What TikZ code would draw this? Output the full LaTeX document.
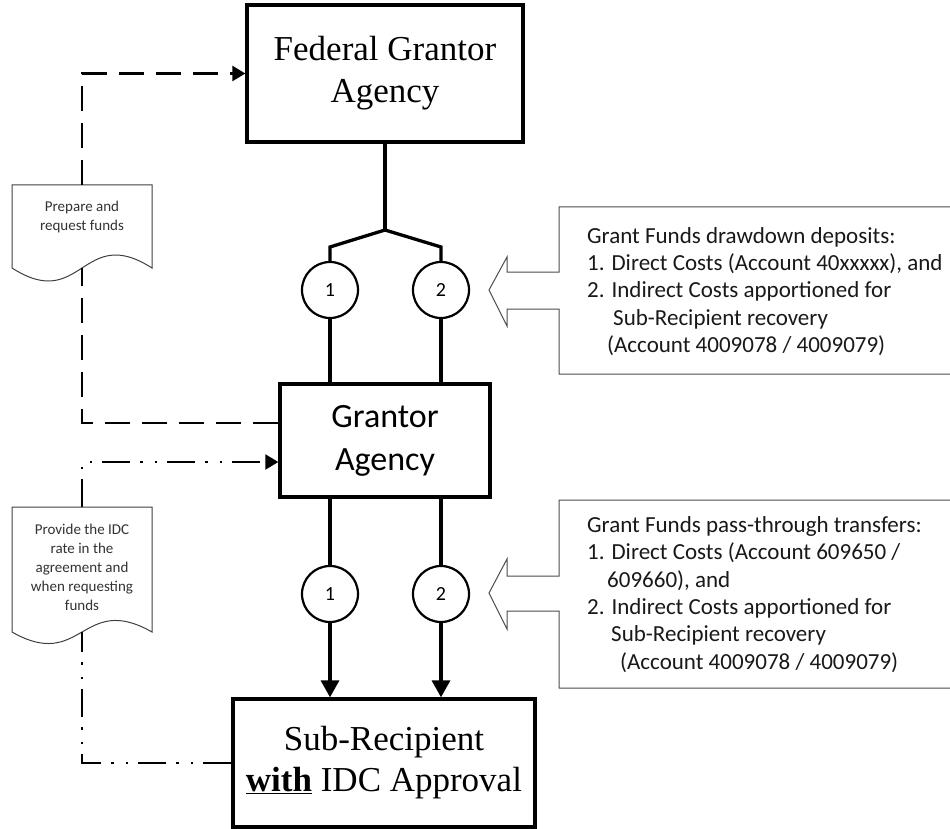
\documentclass[tikz,border=0pt]{standalone}
\usepackage{fontspec}
\setmainfont{Liberation Serif}
\newfontfamily\calfont{Carlito}
\usetikzlibrary{arrows.meta}
\begin{document}
\begin{tikzpicture}[x=1pt,y=-1pt,
  bigbox/.style={draw, line width=3.3pt, rectangle, inner sep=0pt, align=center},
  flow/.style={line width=3.3pt, line join=miter},
  numcirc/.style={draw, circle, line width=2.2pt, minimum size=56pt, inner sep=0pt, fill=white, font=\calfont\fontsize{20}{24}\selectfont},
  docbox/.style={minimum width=140pt, inner sep=0pt, outer sep=0pt},
  doctext/.style={align=center, inner sep=0pt, font=\calfont\fontsize{15}{19}\selectfont, text=black!80},
  docline/.style={draw=black!75, line width=1pt, fill=white},
  dashline/.style={line width=2.5pt, dash pattern=on 25pt off 12pt},
  ddline/.style={line width=2pt, dash pattern=on 28pt off 10pt on 2.5pt off 12pt on 2.5pt off 10pt},
  callout/.style={draw=black!70, line width=1pt, fill=white},
  callouttext/.style={align=left, inner sep=0pt, anchor=west, font=\calfont\fontsize{23}{27.3}\selectfont, text=black!90},
]
\clip (0,0) rectangle (950,829);

% main boxes
\node[bigbox, minimum width=276pt, minimum height=137pt, font=\fontsize{35}{42}\selectfont] (fga) at (385,73.5) {Federal Grantor\\Agency};
\node[bigbox, minimum width=210pt, minimum height=113pt, font=\calfont\fontsize{34}{43}\selectfont] (ga) at (385,440.5) {Grantor\\Agency};
\node[bigbox, minimum width=302pt, minimum height=128pt, font=\fontsize{35}{41}\selectfont] (sr) at (384,763) {Sub-Recipient\\\underline{\textbf{with}} IDC Approval};

% circles
\node[numcirc] (c1u) at (330,290) {1};
\node[numcirc] (c2u) at (441,290) {2};
\node[numcirc] (c1l) at (330,594) {1};
\node[numcirc] (c2l) at (441,594) {2};

% documents
\node[docbox, minimum height=83pt] (doc1) at (82,226.5) {};
\draw[docline] (doc1.north west) -- (doc1.north east) -- (doc1.south east)
  .. controls +(-70,-45) and +(70,45) .. (doc1.south west) -- cycle;
\node[doctext] (doc1t) at ([yshift=9.5pt]doc1.center) {Prepare and\\request funds};

\node[docbox, minimum height=125pt] (doc2) at (82,569.5) {};
\draw[docline] (doc2.north west) -- (doc2.north east) -- (doc2.south east)
  .. controls +(-70,-40) and +(70,40) .. (doc2.south west) -- cycle;
\node[doctext] (doc2t) at ([yshift=2pt]doc2.center) {Provide the IDC\\rate in the\\agreement and\\when requesting\\funds};

% callouts
\draw[callout] (960,207) -- (559,207) -- (559,272) -- (507,272) -- (507,257) -- (489,290)
  -- (507,326) -- (507,309) -- (559,309) -- (559,374) -- (960,374) -- cycle;
\node[callouttext] (t1) at (587,291.5) {Grant Funds drawdown deposits:\\
1. Direct Costs (Account 40xxxxx), and\\
2. Indirect Costs apportioned for\\
\hspace*{26pt}Sub-Recipient recovery\\
\hspace*{20pt}(Account 4009078 / 4009079)};

\draw[callout] (960,500) -- (559,500) -- (559,576) -- (507,576) -- (507,559) -- (489,593)
  -- (507,629) -- (507,611) -- (559,611) -- (559,688) -- (960,688) -- cycle;
\node[callouttext] (t2) at (587,594.5) {Grant Funds pass-through transfers:\\
1. Direct Costs (Account 609650 /\\
\hspace*{20pt}609660), and\\
2. Indirect Costs apportioned for\\
\hspace*{24pt}Sub-Recipient recovery\\
\hspace*{33pt}(Account 4009078 / 4009079)};

% flow connectors
\coordinate (j) at (385,230);
\coordinate (b1) at (330,247);
\coordinate (b2) at (441,247);
\draw[flow] (fga.south) -- (j);
\draw[flow] (j) -- (b1) -- (c1u.north);
\draw[flow] (j) -- (b2) -- (c2u.north);
\draw[flow] (c1u.south) -- (c1u.south |- ga.north);
\draw[flow] (c2u.south) -- (c2u.south |- ga.north);
\draw[flow] (c1l.north |- ga.south) -- (c1l.north);
\draw[flow] (c2l.north |- ga.south) -- (c2l.north);
\draw[flow, -{Triangle[length=17pt,width=18pt]}] (c1l.south) -- (c1l.south |- sr.north);
\draw[flow, -{Triangle[length=17pt,width=18pt]}] (c2l.south) -- (c2l.south |- sr.north);

% side connectors
\draw[dashline] ([yshift=17.5pt]ga.west) -| (doc1.south);
\draw[dashline, -{Triangle[length=13pt,width=15pt]}] (doc1.north) |- (fga.west);
\draw[ddline] (sr.west) -| (doc2.south);
\draw[ddline, -{Triangle[length=13pt,width=15pt]}] (doc2.north) |- ([yshift=-21.5pt]ga.west);
\end{tikzpicture}
\end{document}
